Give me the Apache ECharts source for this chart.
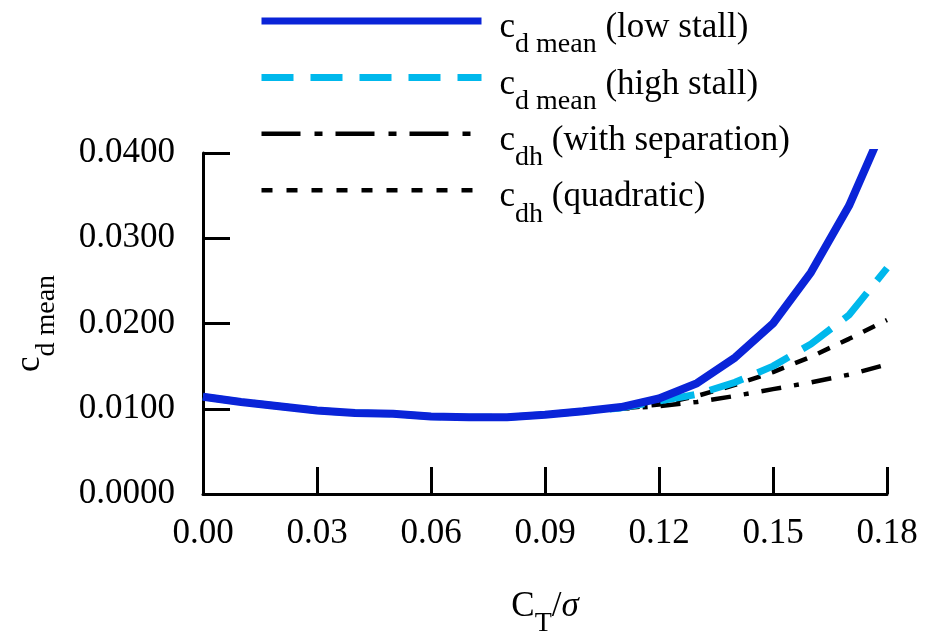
<!DOCTYPE html>
<html>
<head>
<meta charset="utf-8">
<script src="https://cdn.jsdelivr.net/npm/echarts@6/dist/echarts.min.js"></script>
<style>
html,body{margin:0;padding:0;background:#fff;}
#main{width:940px;height:636px;}
</style>
</head>
<body>
<div id="main"></div>
<script>
//横轴 C_T/sigma
var ctSigma = [0.00,0.01,0.02,0.03,0.04,0.05,0.06,0.07,0.08,0.09,0.10,0.11,0.12,0.13,0.14,0.15,0.16,0.17,0.18];
//各曲线数值
var lowStall   = [0.0114,0.0108,0.0103,0.0098,0.0095,0.0094,0.0091,0.0090,0.0090,0.0093,0.0097,0.0102,0.0112,0.0130,0.0160,0.0200,0.0260,0.0338,0.0440];
var highStall  = [0.0114,0.0108,0.0103,0.0098,0.0095,0.0094,0.0091,0.0090,0.0090,0.0093,0.0097,0.0101,0.0109,0.0117,0.0131,0.0150,0.0176,0.0210,0.0265];
var withSep    = [0.0114,0.0108,0.0103,0.0098,0.0095,0.0094,0.0091,0.0090,0.0090,0.0093,0.0097,0.0100,0.0103,0.0108,0.0115,0.0123,0.0131,0.0140,0.0152];
var quadratic  = [0.0114,0.0108,0.0103,0.0098,0.0095,0.0094,0.0091,0.0090,0.0090,0.0093,0.0097,0.0100,0.0105,0.0115,0.0128,0.0143,0.0161,0.0182,0.0204];
var xTicks = [0.00,0.03,0.06,0.09,0.12,0.15,0.18];
var yTicks = [0.0000,0.0100,0.0200,0.0300,0.0400];

var serif = "'Liberation Serif','DejaVu Serif',serif";

function toPairs(xs, ys) {
    var arr = [];
    for (var i = 0; i < xs.length; i++) {
        arr.push([xs[i], ys[i]]);
    }
    return arr;
}

//图例文字(带下标)
var legendText = {
    "low": "{c|c}{sub|d mean}{t| (low stall)}",
    "high": "{c|c}{sub|d mean}{t| (high stall)}",
    "sep": "{c|c}{sub|dh}{t| (with separation)}",
    "quad": "{c|c}{sub|dh}{t| (quadratic)}"
};

var richText = {
    c: {fontFamily: serif, fontSize: 35, lineHeight: 46, color: '#000'},
    t: {fontFamily: serif, fontSize: 35, lineHeight: 46, color: '#000'},
    sub: {fontFamily: serif, fontSize: 28, lineHeight: 28, padding: [26, 0, 0, 0], verticalAlign: 'top', color: '#000'},
    it: {fontFamily: serif, fontSize: 35, lineHeight: 46, fontStyle: 'italic', color: '#000'}
};

var myChart = echarts.init(document.getElementById('main'));

var option = {
    backgroundColor: '#fff',
    animation: false,
    grid: {left: 203, right: 53, top: 153, bottom: 142, outerBoundsMode: 'none', containLabel: false},
    legend: {
        orient: 'vertical',
        left: 253,
        top: 0,
        itemWidth: 220,
        itemHeight: 14,
        itemGap: 2.4,
        itemStyle: {opacity: 0},
        data: [
            {name: 'low', lineStyle: {width: 7, type: 'solid'}},
            {name: 'high', lineStyle: {width: 7, type: [32, 17]}},
            {name: 'sep', lineStyle: {width: 4.5, type: [39, 14, 8, 13]}},
            {name: 'quad', lineStyle: {width: 4.5, type: [11, 14]}}
        ],
        formatter: function (name) {
            return legendText[name];
        },
        textStyle: {
            padding: [14, 0, 0, 13],
            rich: richText
        }
    },
    xAxis: {
        type: 'value',
        min: 0,
        max: 0.18,
        interval: 0.03,
        name: '{c|C}{sub|T}{t|/}{it|σ}',
        nameLocation: 'middle',
        nameGap: 90,
        nameTextStyle: {rich: richText},
        axisLine: {lineStyle: {color: '#000', width: 3}},
        axisTick: {inside: true, length: 27, lineStyle: {color: '#000', width: 3}},
        axisLabel: {
            fontFamily: serif,
            fontSize: 35,
            color: '#000',
            margin: 22,
            formatter: function (v) {
                return v.toFixed(2);
            }
        },
        splitLine: {show: false}
    },
    yAxis: {
        type: 'value',
        min: 0,
        max: 0.04,
        interval: 0.01,
        name: '{c|c}{sub|d mean}',
        nameLocation: 'middle',
        nameRotate: 90,
        nameGap: 150,
        nameTextStyle: {rich: richText},
        axisLine: {show: true, lineStyle: {color: '#000', width: 3}},
        axisTick: {show: true, inside: true, length: 27, lineStyle: {color: '#000', width: 3}},
        axisLabel: {
            fontFamily: serif,
            fontSize: 35,
            color: '#000',
            margin: 28,
            formatter: function (v) {
                return v.toFixed(4);
            }
        },
        splitLine: {show: false}
    },
    series: [
        {
            name: 'sep',
            type: 'line',
            symbol: 'none',
            data: toPairs(ctSigma, withSep),
            lineStyle: {color: '#000', width: 4.5, type: [20, 13, 5, 13]},
            itemStyle: {color: '#000'},
            z: 2
        },
        {
            name: 'quad',
            type: 'line',
            symbol: 'none',
            data: toPairs(ctSigma, quadratic),
            lineStyle: {color: '#000', width: 4.5, type: [13, 12]},
            itemStyle: {color: '#000'},
            z: 2
        },
        {
            name: 'high',
            type: 'line',
            symbol: 'none',
            data: toPairs(ctSigma, highStall),
            lineStyle: {color: '#00b8ec', width: 7, type: [35, 16]},
            itemStyle: {color: '#00b8ec'},
            z: 3
        },
        {
            name: 'low',
            type: 'line',
            symbol: 'none',
            data: toPairs(ctSigma, lowStall),
            lineStyle: {color: '#0a24d8', width: 8},
            itemStyle: {color: '#0a24d8'},
            z: 4
        }
    ]
};

myChart.setOption(option);
</script>
</body>
</html>
